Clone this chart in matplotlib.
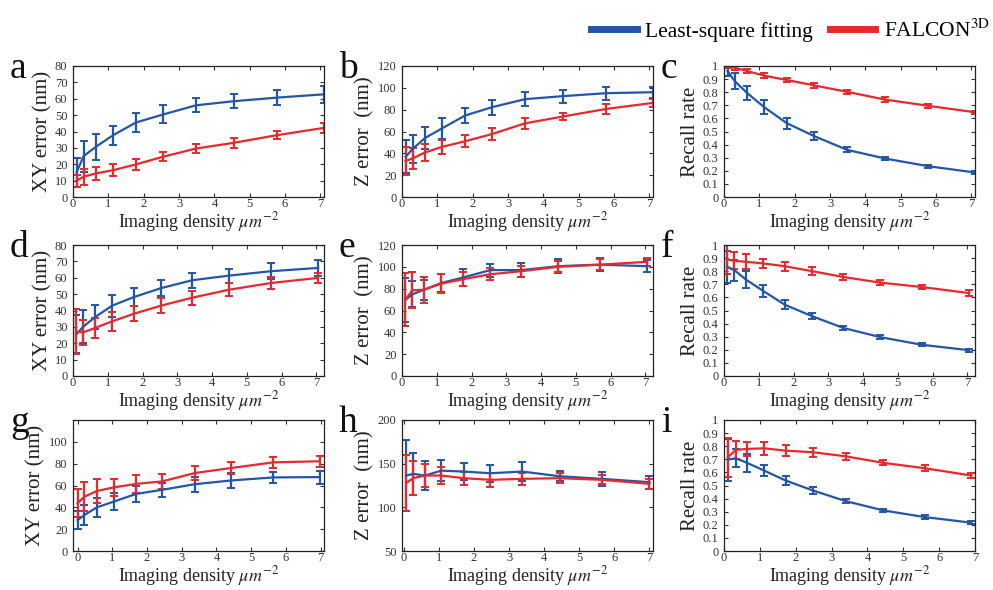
import numpy as np
import matplotlib
matplotlib.use("Agg")
import matplotlib.pyplot as plt
from matplotlib.lines import Line2D

plt.rcParams['font.family'] = 'serif'
plt.rcParams['font.serif'] = ['Liberation Serif', 'DejaVu Serif']
plt.rcParams['mathtext.fontset'] = 'stix'

# imaging densities (um^-2) per row
dens_row1 = [0.1, 0.3, 0.65, 1.14, 1.78, 2.55, 3.48, 4.55, 5.78, 7.1]
dens_row2 = [0.1, 0.3, 0.63, 1.13, 1.75, 2.54, 3.43, 4.49, 5.7, 7.05]
dens_g = [0.0, 0.2, 0.56, 1.04, 1.69, 2.43, 3.38, 4.42, 5.64, 6.98]
dens_h = [0.07, 0.27, 0.6, 1.07, 1.71, 2.47, 3.37, 4.44, 5.65, 7.0]
dens_i = [0.11, 0.33, 0.64, 1.12, 1.72, 2.48, 3.39, 4.44, 5.6, 6.9]

# a: XY error
a_lsq = [15, 25, 30.7, 37.8, 45.5, 50.4, 56, 58.5, 60.7, 62.7]
a_lsq_err = [9, 9.5, 8, 5.8, 5.7, 5.5, 4.3, 4.3, 4.5, 5]
a_fal = [10, 12.4, 14.4, 16.4, 19.9, 24.6, 29.6, 33.1, 37.8, 42.2]
a_fal_err = [3.7, 4.8, 3.8, 3.7, 3.3, 2.8, 2.8, 3, 2.6, 3]

# b: Z error
b_lsq = [36.8, 44, 54, 63, 74.6, 82.3, 89.6, 92.4, 95.1, 96]
b_lsq_err = [15, 13, 10, 9.5, 7, 7, 6.5, 6, 6, 5]
b_fal = [33, 35.3, 40.8, 46, 51, 57.7, 67.5, 73.7, 80.7, 86.2]
b_fal_err = [12.5, 10, 7.5, 6.5, 5.5, 5.5, 5, 3.5, 4.5, 4]

# c: recall
c_lsq = [0.962, 0.885, 0.795, 0.685, 0.563, 0.465, 0.36, 0.294, 0.235, 0.187]
c_lsq_err = [0.04, 0.064, 0.052, 0.052, 0.042, 0.03, 0.02, 0.014, 0.012, 0.01]
c_fal = [0.997, 0.987, 0.962, 0.926, 0.893, 0.852, 0.803, 0.744, 0.696, 0.647]
c_fal_err = [0.01, 0.015, 0.018, 0.02, 0.018, 0.017, 0.017, 0.018, 0.015, 0.013]

# d: XY error
d_lsq = [25.6, 30.2, 35.9, 43, 48.2, 53.7, 58.5, 61.3, 64, 66]
d_lsq_err = [11.5, 10, 7.5, 6.7, 5.4, 5.1, 4.6, 4.3, 4.9, 5]
d_fal = [27, 26.7, 29.3, 33.4, 38, 43, 47.8, 52.7, 56.8, 59.9]
d_fal_err = [13.8, 7.6, 6.2, 5.7, 4.5, 4.4, 4.2, 4.1, 3.8, 3.2]

# e: Z error
e_lsq = [69.8, 74.8, 79, 85.2, 90.2, 97, 97, 100.6, 102, 100.6]
e_lsq_err = [20, 12, 9, 7.8, 8, 6, 6.5, 6.3, 6, 5.5]
e_fal = [70, 78.5, 79, 84.6, 88.6, 93.2, 96, 100, 102, 104.6]
e_fal_err = [24, 16.5, 12, 9, 6.5, 5.7, 5, 5, 5, 3.7]

# f: recall
f_lsq = [0.833, 0.808, 0.736, 0.649, 0.544, 0.456, 0.367, 0.297, 0.238, 0.197]
f_lsq_err = [0.12, 0.08, 0.065, 0.043, 0.036, 0.023, 0.015, 0.013, 0.012, 0.01]
f_fal = [0.89, 0.879, 0.872, 0.859, 0.838, 0.8, 0.756, 0.713, 0.679, 0.633]
f_fal_err = [0.115, 0.065, 0.058, 0.036, 0.036, 0.032, 0.026, 0.02, 0.018, 0.02]

# g: XY error
g_lsq = [28.3, 33, 40, 45.2, 52.3, 56, 61.2, 64.6, 67.4, 67.7]
g_lsq_err = [8.5, 9, 8.5, 7.7, 7.5, 6.2, 7, 6.6, 4.8, 6]
g_fal = [43.7, 49.8, 55, 58.2, 61.5, 63.7, 71.4, 76, 81.2, 82.2]
g_fal_err = [13, 13, 10.8, 7.7, 8, 6.5, 6.6, 5.4, 5, 5]

# h: Z error
h_lsq = [136.4, 138.3, 136.4, 142, 141, 139, 141, 135.6, 132.6, 128.8]
h_lsq_err = [41, 24, 16.5, 12, 10, 9.5, 11, 6, 8, 7.5]
h_fal = [128, 133.4, 136.4, 136.4, 133.4, 131.5, 132.6, 133.4, 131.5, 126.9]
h_fal_err = [32, 19.5, 13.3, 10, 7.6, 8, 7, 6, 5, 5.5]

# i: recall
i_lsq = [0.698, 0.708, 0.673, 0.614, 0.538, 0.462, 0.381, 0.31, 0.259, 0.216]
i_lsq_err = [0.16, 0.068, 0.067, 0.04, 0.035, 0.025, 0.018, 0.013, 0.012, 0.01]
i_fal = [0.716, 0.772, 0.779, 0.784, 0.766, 0.754, 0.723, 0.673, 0.632, 0.576]
i_fal_err = [0.15, 0.07, 0.055, 0.048, 0.04, 0.035, 0.025, 0.02, 0.022, 0.02]

blue = "#2356a8"
red = "#e8282d"

fig = plt.figure(figsize=(9.93, 5.90), dpi=100)

lefts = [73, 402, 724]
tops = [66, 245, 420]
W, H = 251, 131

panels = [
    ("a", dens_row1, a_lsq, a_lsq_err, a_fal, a_fal_err, "XY error (nm)", (0, 80), np.arange(0, 81, 10), (0, 7.1)),
    ("b", dens_row1, b_lsq, b_lsq_err, b_fal, b_fal_err, "Z error  (nm)", (0, 120), np.arange(0, 121, 20), (0, 7.1)),
    ("c", dens_row1, c_lsq, c_lsq_err, c_fal, c_fal_err, "Recall rate", (0, 1), np.arange(0, 1.01, 0.1), (0, 7.1)),
    ("d", dens_row2, d_lsq, d_lsq_err, d_fal, d_fal_err, "XY error (nm)", (0, 80), np.arange(0, 81, 10), (0, 7.22)),
    ("e", dens_row2, e_lsq, e_lsq_err, e_fal, e_fal_err, "Z error  (nm)", (0, 120), np.arange(0, 121, 20), (0, 7.22)),
    ("f", dens_row2, f_lsq, f_lsq_err, f_fal, f_fal_err, "Recall rate", (0, 1), np.arange(0, 1.01, 0.1), (0, 7.22)),
    ("g", dens_g, g_lsq, g_lsq_err, g_fal, g_fal_err, "XY error (nm)", (0, 120), np.arange(0, 101, 20), (-0.13, 7.1)),
    ("h", dens_h, h_lsq, h_lsq_err, h_fal, h_fal_err, "Z error  (nm)", (50, 200), np.arange(50, 201, 50), (-0.05, 7.1)),
    ("i", dens_i, i_lsq, i_lsq_err, i_fal, i_fal_err, "Recall rate", (0, 1), np.arange(0, 1.01, 0.1), (0, 7.0)),
]

for k, (letter, x, yl, el, yf, ef, ylab, ylim, yticks, xlim) in enumerate(panels):
    r, c = divmod(k, 3)
    ax = fig.add_axes([lefts[c] / 993, 1 - (tops[r] + H) / 590, W / 993, H / 590])
    ax.errorbar(x, yl, yerr=el, color=blue, lw=1.6, elinewidth=1.6, capsize=2.8, capthick=1.4)
    ax.errorbar(x, yf, yerr=ef, color=red, lw=1.6, elinewidth=1.6, capsize=2.8, capthick=1.4)
    ax.set_xlim(*xlim)
    ax.set_ylim(*ylim)
    ax.set_xticks(range(0, 8))
    ax.set_yticks(yticks)
    if ylim[1] == 1:
        ax.set_yticklabels(["0"] + ["%.1f" % v for v in yticks[1:-1]] + ["1"])
    ax.tick_params(direction="in", length=3, width=0.8, top=True, right=True,
                   labelsize=9, colors="#333333", pad=1)
    ax.tick_params(axis="y", pad=4)
    for s in ax.spines.values():
        s.set_color("#222222")
        s.set_linewidth(0.9)
    ax.set_ylabel(ylab, fontsize=15, labelpad=2, color="#222222")
    ax.set_xlabel(r"Imaging density $\mu m^{-2}$", fontsize=13, labelpad=0, color="#222222")
    fig.text((lefts[c] - 63) / 993, 1 - (tops[r] + 12) / 590, letter, fontsize=27,
             ha="left", va="baseline", color="#111111")

handles = [Line2D([], [], color=blue, lw=5), Line2D([], [], color=red, lw=5)]
fig.legend(handles, ["Least-square fitting", "FALCON$^{\mathrm{3D}}$"], loc="upper right",
           bbox_to_anchor=(1.008, 0.985), ncol=2, frameon=False, fontsize=15.5,
           handlelength=2.1, columnspacing=0.8, handletextpad=0.4, borderaxespad=0.1)

fig.savefig("out.png", dpi=100)
